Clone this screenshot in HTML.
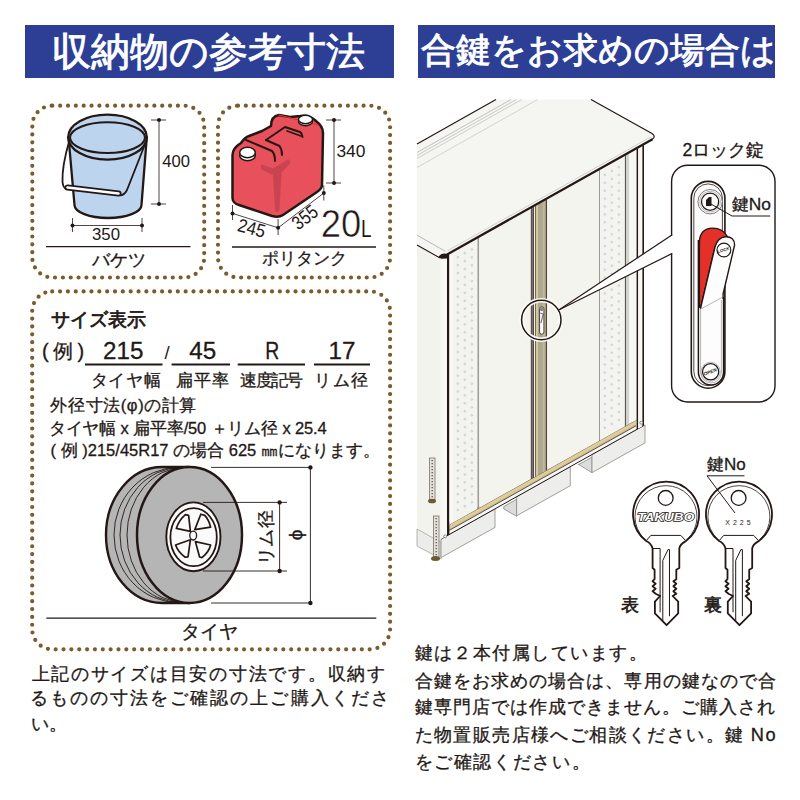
<!DOCTYPE html>
<html><head><meta charset="utf-8">
<style>
html,body{margin:0;padding:0;background:#fff;}
body{width:800px;height:800px;overflow:hidden;font-family:"Liberation Sans",sans-serif;}
svg{display:block;}
text{font-family:"Liberation Sans",sans-serif;fill:#231815;stroke:#231815;stroke-width:0.3px;}
.wt{fill:#fff;stroke:#fff;stroke-width:0.9px;}
.num{stroke-width:0;}
</style></head><body>
<svg width="800" height="800" viewBox="0 0 800 800">
<!-- banners -->
<rect x="25" y="25" width="369" height="53" fill="#2c3f95"/>
<rect x="418" y="25" width="357" height="53" fill="#2c3f95"/>
<text x="51.9" y="64.5" font-size="39.1" class="wt" textLength="313">収納物の参考寸法</text>
<text x="421" y="62.3" font-size="34.75" class="wt" textLength="355">合鍵をお求めの場合は</text>

<!-- dotted boxes -->
<g fill="none" stroke="#7b5c2c" stroke-width="4.2" stroke-linecap="round" stroke-dasharray="0 7.85">
<rect x="32.3" y="105.7" width="171.9" height="171.8" rx="20"/>
<rect x="218" y="105.7" width="172.1" height="171.8" rx="20"/>
<rect x="32.2" y="291.4" width="357.9" height="357.9" rx="20"/>
</g>
<!-- separators -->
<g stroke="#231815" stroke-width="1.3">
<line x1="46" y1="246.6" x2="190.5" y2="246.6"/>
<line x1="232" y1="247" x2="376" y2="247"/>
<line x1="46.3" y1="618.2" x2="376.3" y2="618.2"/>
</g>
<text x="119.1" y="265.5" font-size="18" text-anchor="middle" textLength="54">バケツ</text>
<text x="304.5" y="263.5" font-size="17.2" text-anchor="middle" textLength="85">ポリタンク</text>
<text x="209.1" y="637.5" font-size="18.6" text-anchor="middle" textLength="57">タイヤ</text>


<!-- bucket -->
<g stroke="#231815" stroke-linejoin="round" stroke-linecap="round">
<path d="M68.5 137 L74.5 205 A33.5 13 0 0 0 141.5 205 L146.8 137 Z" fill="#bdd4ee" stroke-width="2.3"/>
<ellipse cx="107.5" cy="137.2" rx="39.3" ry="22.5" fill="#bdd4ee" stroke-width="2.3"/>
<ellipse cx="107.5" cy="137.6" rx="37.5" ry="15.4" fill="#bdd4ee" stroke-width="2.1"/>
<path d="M69.5 140 C66 152 62 170 62.5 182 C63 186 64 188 66 189" fill="none" stroke-width="1.8"/>
<path d="M118 195 C122 196 125 194 127 190 L145.5 143" fill="none" stroke-width="1.8"/>
<path d="M67.5 187.5 L118.5 193.5" stroke-width="6" fill="none"/>
<path d="M67.5 187.5 L118.5 193.5" stroke="#fff" stroke-width="2.6" fill="none"/>
</g>
<g stroke="#231815" stroke-width="0.8" fill="none">
<line x1="159" y1="120" x2="159" y2="204"/>
<line x1="151" y1="120" x2="166" y2="120"/>
<line x1="151" y1="204" x2="166" y2="204"/>
<line x1="72.5" y1="225.5" x2="142" y2="225.5"/>
<line x1="72.5" y1="218" x2="72.5" y2="232"/>
<line x1="142" y1="218" x2="142" y2="232"/>
</g>
<g fill="#231815">
<circle cx="159" cy="120" r="2"/><circle cx="159" cy="204" r="2"/>
<circle cx="72.5" cy="225.5" r="2"/><circle cx="142" cy="225.5" r="2"/>
</g>
<text class="num" x="162.2" y="167.3" font-size="16.6">400</text>
<text class="num" x="106" y="239.8" font-size="16.8" text-anchor="middle">350</text>

<!-- polytank -->
<g stroke="#231815" stroke-linejoin="round" stroke-linecap="round">
<path d="M232.5 155 C232.5 150 236 146 241 143 C243 140 245 137 249 136 L262 131 L271 126 C271 120 273 116 279 115 L290 117 L300 116 C306 115 312 117 316 121 C320 124 323 128 323 133 L322 185 C322 188 320 190 317 192 L283 215 C280 217 276 217 272 216 L239 205 C235 204 232.5 201 232.5 198 Z" fill="#e8505b" stroke-width="2.5"/>
<path d="M262 164.5 L273 168.5 L287.5 159.5 C290 159 291 161 290 163.5 L281.5 172.5 L279.5 209 C279 213 275.5 213 275 209 L273 175 L262.5 170 C260.5 169 260.5 165.5 262 164.5 Z" fill="#c94450" stroke="none"/>
<path d="M246 140 L272 151 C274 153 275 157 275 161" fill="none" stroke-width="2"/>
<path d="M266 140 L279.5 146 C281 148 282 151 282 155" fill="none" stroke-width="2"/>
<path d="M266 140 L285 127 L300 132 C302 133 302 135 302.5 137" fill="none" stroke-width="2"/>
<path d="M287 131 L301 136" fill="none" stroke-width="1.8"/>
<path d="M279 115 L318 125" fill="none" stroke="#e8302a" stroke-width="1.2"/>
<ellipse cx="247.5" cy="155.5" rx="7.8" ry="5.2" fill="#fff" stroke-width="1.5"/>
<ellipse cx="247.5" cy="152.5" rx="7.8" ry="5.2" fill="#fff" stroke-width="1.5"/>
<ellipse cx="305.5" cy="121.5" rx="7" ry="4.2" fill="#fff" stroke-width="1.4"/>
<ellipse cx="305.5" cy="119.5" rx="7" ry="4.2" fill="#fff" stroke-width="1.4"/>
</g>
<g stroke="#231815" stroke-width="0.8" fill="none">
<line x1="334" y1="120" x2="334" y2="183"/>
<line x1="326" y1="120" x2="341" y2="120"/>
<line x1="326" y1="183" x2="341" y2="183"/>
<line x1="232.5" y1="213.4" x2="278.1" y2="227.8"/>
<line x1="278.1" y1="227.8" x2="323.8" y2="193.1"/>
<line x1="232.5" y1="205" x2="232.5" y2="220"/>
<line x1="278.1" y1="219" x2="278.1" y2="235"/>
<line x1="323.8" y1="185.5" x2="323.8" y2="200.5"/>
</g>
<g fill="#231815">
<circle cx="334" cy="120" r="2"/><circle cx="334" cy="183" r="2"/>
<circle cx="232.5" cy="213.4" r="2"/><circle cx="278.1" cy="227.8" r="2"/><circle cx="323.8" cy="193.1" r="2"/>
</g>
<text class="num" x="336.4" y="157" font-size="17.4">340</text>
<text class="num" transform="translate(250 234.4) rotate(15)" font-size="18.6" text-anchor="middle" textLength="28" lengthAdjust="spacingAndGlyphs">245</text>
<text class="num" transform="translate(309 222.5) rotate(-38)" font-size="19.5" text-anchor="middle" textLength="27" lengthAdjust="spacingAndGlyphs">355</text>
<text class="num" x="320.8" y="237" font-size="38.2" textLength="40.5" lengthAdjust="spacingAndGlyphs" style="stroke:#fff;stroke-width:0.5px">20</text>
<text class="num" x="361" y="237" font-size="23.8" textLength="10.5" lengthAdjust="spacingAndGlyphs">L</text>
<!-- tire box text -->
<text x="51" y="326" font-size="18.5" style="stroke-width:0.75px" textLength="95">サイズ表示</text>
<text x="42" y="358" font-size="20">(</text>
<text x="53" y="357.7" font-size="20">例</text>
<text x="77.6" y="358" font-size="20">)</text>
<g font-size="24.2" text-anchor="middle" style="stroke-width:0.35px">
<text x="123.2" y="358.6">215</text>
<text x="202.8" y="358.6">45</text>
<text x="272.2" y="358.6" textLength="14" lengthAdjust="spacingAndGlyphs">R</text>
<text x="341.9" y="358.6">17</text>
</g>
<text class="num" x="164.6" y="358.6" font-size="18.5">/</text>
<g stroke="#231815" stroke-width="2.2">
<line x1="85" y1="364.5" x2="162.5" y2="364.5"/>
<line x1="171.6" y1="364.5" x2="230" y2="364.5"/>
<line x1="237.7" y1="364.5" x2="305" y2="364.5"/>
<line x1="314" y1="364.5" x2="370" y2="364.5"/>
</g>
<g font-size="16.8" text-anchor="middle">
<text x="125.75" y="385.6" textLength="70">タイヤ幅</text>
<text x="202.45" y="385.6" textLength="52.6">扁平率</text>
<text x="271.9" y="385.6" textLength="63">速度記号</text>
<text x="341.2" y="385.6" textLength="53.6">リム径</text>
</g>
<g font-size="16.5">
<text x="50.4" y="411" textLength="146">外径寸法(φ)の計算</text>
<text x="48.8" y="434" textLength="277.8">タイヤ幅 x 扁平率/50 ＋リム径 x 25.4</text>
<text x="50.6" y="456" textLength="329.2">( 例 )215/45R17 の場合 625 ㎜になります。</text>
</g>


<!-- tire -->
<g stroke="#231815" stroke-linejoin="round">
<path d="M189.5 467 L162 467 A56 68 0 0 0 162 603 L189.5 603 Z" fill="#b5b5b6" stroke-width="2.4"/>
<g fill="none" stroke-width="0.9">
<path d="M178 467.5 A64 67.5 0 0 0 178 602.5"/>
<path d="M181 467.5 A61 67.5 0 0 0 181 602.5"/>
<path d="M184 467.5 A57 67.5 0 0 0 184 602.5"/>
</g>
<ellipse cx="189.5" cy="535" rx="52.5" ry="68" fill="#b5b5b6" stroke-width="2.5"/>
<ellipse cx="193.4" cy="536.8" rx="27.1" ry="34.4" fill="#fafafa" stroke-width="1.9"/>
<ellipse cx="193.6" cy="537.2" rx="23.2" ry="29" fill="#fafafa" stroke-width="1.8"/>
<g fill="none" stroke-width="1.7" stroke-linejoin="round">
<path d="M176.3 528.4 Q179 520 185.4 514.6 L188.6 515.4 L190.4 531.4 Z"/>
<path d="M194.8 529.6 L200.8 514.2 L204.8 515.4 Q209 520 210.6 527.2 Z"/>
<path d="M195.4 541.6 L210.6 545 Q209 552 202 557.6 L199.6 557 Z"/>
<path d="M175.6 545 L190.4 539.8 L188 557 L185.2 557.2 Q178 552 175.6 545 Z"/>
</g>
<ellipse cx="193.2" cy="535.6" rx="3.4" ry="4.4" fill="#fafafa" stroke-width="1.3"/>
</g>
<g stroke="#231815" stroke-width="0.9" fill="none">
<line x1="211" y1="467.4" x2="312" y2="467.4"/>
<line x1="211" y1="603" x2="312" y2="603"/>
<line x1="310.4" y1="467.4" x2="310.4" y2="603"/>
<line x1="203" y1="502.4" x2="287" y2="502.4"/>
<line x1="203" y1="571" x2="287" y2="571"/>
<line x1="279.6" y1="502.4" x2="279.6" y2="571"/>
</g>
<g fill="#231815">
<circle cx="310.4" cy="467.4" r="2.2"/><circle cx="310.4" cy="603" r="2.2"/>
<circle cx="279.6" cy="502.4" r="2.2"/><circle cx="279.6" cy="571" r="2.2"/>
</g>
<text transform="translate(272 537.5) rotate(-90)" font-size="17.7" text-anchor="middle" textLength="55">リム径</text>
<text transform="translate(301.5 535) rotate(-90)" font-size="19" text-anchor="middle">ϕ</text>
<!-- bottom-left text -->
<g font-size="17.9">
<text x="31.5" y="680" textLength="353.5">上記のサイズは目安の寸法です。収納す</text>
<text x="29.6" y="704" textLength="359.2">るものの寸法をご確認の上ご購入くださ</text>
<text x="30.5" y="729.5" textLength="36">い。</text>
</g>

<!-- SHED START -->
<polygon points="417.0,244.0 441.0,257.5 441.0,542.5 417.0,529.0" fill="#f3f3ee"/>
<line x1="442.6" y1="258" x2="442.6" y2="542" stroke="#b4b4b0" stroke-width="0.7"/>
<polygon points="417.0,529.0 441.0,542.5 441.0,558.8 417.0,546.0" fill="#ececea" stroke="#9a9a96" stroke-width="0.7"/>
<polygon points="441.0,256.6 644.0,142.9 644.0,425.4 441.0,539.1" fill="#f4f4ef"/>
<polygon points="441.0,539.1 495.0,508.9 495.0,527.4 441.0,557.6" fill="#ededeb" stroke="#8a8a86" stroke-width="0.8"/>
<polygon points="503.8,506.5 516.6,499.3 516.6,516.2 503.8,509.0" fill="#dcdcda" stroke="#8a8a86" stroke-width="0.8"/>
<polygon points="516.6,496.8 570.3,466.7 570.3,485.7 516.6,515.8" fill="#ededeb" stroke="#8a8a86" stroke-width="0.8"/>
<polygon points="578.2,464.8 592.0,457.1 592.0,472.7 578.2,464.2" fill="#dcdcda" stroke="#8a8a86" stroke-width="0.8"/>
<polygon points="592.0,454.6 645.0,424.9 645.0,442.9 592.0,472.6" fill="#ededeb" stroke="#8a8a86" stroke-width="0.8"/>
<polygon points="441.0,534.6 644.0,420.9 644.0,425.4 441.0,539.1" fill="#f7f7f4"/>
<line x1="441.0" y1="539.1" x2="644.0" y2="425.4" stroke="#231815" stroke-width="1"/>
<polygon points="449.4,524.7 636.0,420.2 636.0,425.4 449.4,529.9" fill="#dfcc9a"/>
<polygon points="449.4,528.7 636.0,424.2 636.0,425.4 449.4,529.9" fill="#c9b98e"/>
<line x1="449.4" y1="524.1" x2="636.0" y2="419.6" stroke="#3a3028" stroke-width="1.6"/>
<line x1="449.4" y1="522.9" x2="636.0" y2="418.4" stroke="#5a5048" stroke-width="1.2" stroke-dasharray="1 1.2"/>
<line x1="449.4" y1="530.3" x2="636.0" y2="425.8" stroke="#4a4038" stroke-width="0.9"/>
<polygon points="441.0,258.6 447.0,255.3 447.0,535.8 441.0,539.1" fill="#f7f7f3"/>
<polygon points="447.0,255.3 449.4,253.9 449.4,534.4 447.0,535.8" fill="#231815"/>
<polygon points="449.4,253.9 453.0,251.9 453.0,522.7 449.4,524.7" fill="#f7f7f3"/>
<polygon points="453.0,251.9 477.5,238.2 477.5,509.0 453.0,522.7" fill="#f3f3ef"/>
<polygon points="477.5,238.2 479.2,237.2 479.2,508.0 477.5,509.0" fill="#9c9a96"/>
<polygon points="479.2,237.2 531.0,208.2 531.0,479.0 479.2,508.0" fill="#f4f4ef"/>
<polygon points="530.8,208.3 534.0,206.5 534.0,477.3 530.8,479.1" fill="#4a4240"/>
<polygon points="531.6,207.9 533.2,207.0 533.2,477.8 531.6,478.7" fill="#7a706b"/>
<polygon points="534.0,206.5 535.1,205.9 535.1,476.7 534.0,477.3" fill="#f0efea"/>
<polygon points="535.1,205.9 547.1,199.2 547.1,470.0 535.1,476.7" fill="#aea78f"/>
<polygon points="535.1,205.9 536.1,205.4 536.1,476.2 535.1,476.7" fill="#6b6250"/>
<polygon points="536.1,205.4 537.9,204.4 537.9,475.2 536.1,476.2" fill="#dccb98"/>
<polygon points="542.6,201.7 544.9,200.4 544.9,471.2 542.6,472.5" fill="#bfb79a"/>
<polygon points="544.9,200.4 546.0,199.8 546.0,470.6 544.9,471.2" fill="#a89c80"/>
<polygon points="546.0,199.8 547.1,199.2 547.1,470.0 546.0,470.6" fill="#4d453a"/>
<polygon points="547.1,199.2 599.0,170.1 599.0,440.9 547.1,470.0" fill="#f4f4ef"/>
<polygon points="599.0,170.1 600.0,169.6 600.0,440.4 599.0,440.9" fill="#9c9a96"/>
<polygon points="600.0,169.6 625.3,155.4 625.3,426.2 600.0,440.4" fill="#f3f3ef"/>
<polygon points="625.3,155.4 629.4,153.1 629.4,423.9 625.3,426.2" fill="#d2d2ce"/>
<polygon points="624.9,155.6 626.0,155.0 626.0,425.8 624.9,426.4" fill="#5a5650"/>
<polygon points="629.0,153.3 636.6,149.1 636.6,419.9 629.0,424.1" fill="#f6f6f3"/>
<polygon points="636.6,149.1 638.2,148.2 638.2,428.7 636.6,429.6" fill="#231815"/>
<polygon points="638.2,148.2 642.4,145.8 642.4,426.3 638.2,428.7" fill="#f6f6f3"/>
<polygon points="642.4,145.8 644.0,144.9 644.0,425.4 642.4,426.3" fill="#231815"/>
<g fill="none" stroke="#b2b2ae" stroke-width="0.55"><circle cx="457.8" cy="257.2" r="0.85"/><circle cx="457.8" cy="265.1" r="0.85"/><circle cx="457.8" cy="273.0" r="0.85"/><circle cx="457.8" cy="280.9" r="0.85"/><circle cx="457.8" cy="288.8" r="0.85"/><circle cx="457.8" cy="296.7" r="0.85"/><circle cx="457.8" cy="304.6" r="0.85"/><circle cx="457.8" cy="312.5" r="0.85"/><circle cx="457.8" cy="320.4" r="0.85"/><circle cx="457.8" cy="328.3" r="0.85"/><circle cx="457.8" cy="336.2" r="0.85"/><circle cx="457.8" cy="344.1" r="0.85"/><circle cx="457.8" cy="352.0" r="0.85"/><circle cx="457.8" cy="359.9" r="0.85"/><circle cx="457.8" cy="367.8" r="0.85"/><circle cx="457.8" cy="375.7" r="0.85"/><circle cx="457.8" cy="383.6" r="0.85"/><circle cx="457.8" cy="391.5" r="0.85"/><circle cx="457.8" cy="399.4" r="0.85"/><circle cx="457.8" cy="407.3" r="0.85"/><circle cx="457.8" cy="415.2" r="0.85"/><circle cx="457.8" cy="423.1" r="0.85"/><circle cx="457.8" cy="431.0" r="0.85"/><circle cx="457.8" cy="438.9" r="0.85"/><circle cx="457.8" cy="446.8" r="0.85"/><circle cx="457.8" cy="454.7" r="0.85"/><circle cx="457.8" cy="462.6" r="0.85"/><circle cx="457.8" cy="470.5" r="0.85"/><circle cx="457.8" cy="478.4" r="0.85"/><circle cx="457.8" cy="486.3" r="0.85"/><circle cx="457.8" cy="494.2" r="0.85"/><circle cx="457.8" cy="502.1" r="0.85"/><circle cx="457.8" cy="510.0" r="0.85"/><circle cx="464.8" cy="253.3" r="0.85"/><circle cx="464.8" cy="261.2" r="0.85"/><circle cx="464.8" cy="269.1" r="0.85"/><circle cx="464.8" cy="277.0" r="0.85"/><circle cx="464.8" cy="284.9" r="0.85"/><circle cx="464.8" cy="292.8" r="0.85"/><circle cx="464.8" cy="300.7" r="0.85"/><circle cx="464.8" cy="308.6" r="0.85"/><circle cx="464.8" cy="316.5" r="0.85"/><circle cx="464.8" cy="324.4" r="0.85"/><circle cx="464.8" cy="332.3" r="0.85"/><circle cx="464.8" cy="340.2" r="0.85"/><circle cx="464.8" cy="348.1" r="0.85"/><circle cx="464.8" cy="356.0" r="0.85"/><circle cx="464.8" cy="363.9" r="0.85"/><circle cx="464.8" cy="371.8" r="0.85"/><circle cx="464.8" cy="379.7" r="0.85"/><circle cx="464.8" cy="387.6" r="0.85"/><circle cx="464.8" cy="395.5" r="0.85"/><circle cx="464.8" cy="403.4" r="0.85"/><circle cx="464.8" cy="411.3" r="0.85"/><circle cx="464.8" cy="419.2" r="0.85"/><circle cx="464.8" cy="427.1" r="0.85"/><circle cx="464.8" cy="435.0" r="0.85"/><circle cx="464.8" cy="442.9" r="0.85"/><circle cx="464.8" cy="450.8" r="0.85"/><circle cx="464.8" cy="458.7" r="0.85"/><circle cx="464.8" cy="466.6" r="0.85"/><circle cx="464.8" cy="474.5" r="0.85"/><circle cx="464.8" cy="482.4" r="0.85"/><circle cx="464.8" cy="490.3" r="0.85"/><circle cx="464.8" cy="498.2" r="0.85"/><circle cx="464.8" cy="506.1" r="0.85"/><circle cx="471.8" cy="249.4" r="0.85"/><circle cx="471.8" cy="257.3" r="0.85"/><circle cx="471.8" cy="265.2" r="0.85"/><circle cx="471.8" cy="273.1" r="0.85"/><circle cx="471.8" cy="281.0" r="0.85"/><circle cx="471.8" cy="288.9" r="0.85"/><circle cx="471.8" cy="296.8" r="0.85"/><circle cx="471.8" cy="304.7" r="0.85"/><circle cx="471.8" cy="312.6" r="0.85"/><circle cx="471.8" cy="320.5" r="0.85"/><circle cx="471.8" cy="328.4" r="0.85"/><circle cx="471.8" cy="336.3" r="0.85"/><circle cx="471.8" cy="344.2" r="0.85"/><circle cx="471.8" cy="352.1" r="0.85"/><circle cx="471.8" cy="360.0" r="0.85"/><circle cx="471.8" cy="367.9" r="0.85"/><circle cx="471.8" cy="375.8" r="0.85"/><circle cx="471.8" cy="383.7" r="0.85"/><circle cx="471.8" cy="391.6" r="0.85"/><circle cx="471.8" cy="399.5" r="0.85"/><circle cx="471.8" cy="407.4" r="0.85"/><circle cx="471.8" cy="415.3" r="0.85"/><circle cx="471.8" cy="423.2" r="0.85"/><circle cx="471.8" cy="431.1" r="0.85"/><circle cx="471.8" cy="439.0" r="0.85"/><circle cx="471.8" cy="446.9" r="0.85"/><circle cx="471.8" cy="454.8" r="0.85"/><circle cx="471.8" cy="462.7" r="0.85"/><circle cx="471.8" cy="470.6" r="0.85"/><circle cx="471.8" cy="478.5" r="0.85"/><circle cx="471.8" cy="486.4" r="0.85"/><circle cx="471.8" cy="494.3" r="0.85"/><circle cx="471.8" cy="502.2" r="0.85"/><circle cx="604.8" cy="174.9" r="0.85"/><circle cx="604.8" cy="182.8" r="0.85"/><circle cx="604.8" cy="190.7" r="0.85"/><circle cx="604.8" cy="198.6" r="0.85"/><circle cx="604.8" cy="206.5" r="0.85"/><circle cx="604.8" cy="214.4" r="0.85"/><circle cx="604.8" cy="222.3" r="0.85"/><circle cx="604.8" cy="230.2" r="0.85"/><circle cx="604.8" cy="238.1" r="0.85"/><circle cx="604.8" cy="246.0" r="0.85"/><circle cx="604.8" cy="253.9" r="0.85"/><circle cx="604.8" cy="261.8" r="0.85"/><circle cx="604.8" cy="269.7" r="0.85"/><circle cx="604.8" cy="277.6" r="0.85"/><circle cx="604.8" cy="285.5" r="0.85"/><circle cx="604.8" cy="293.4" r="0.85"/><circle cx="604.8" cy="301.3" r="0.85"/><circle cx="604.8" cy="309.2" r="0.85"/><circle cx="604.8" cy="317.1" r="0.85"/><circle cx="604.8" cy="325.0" r="0.85"/><circle cx="604.8" cy="332.9" r="0.85"/><circle cx="604.8" cy="340.8" r="0.85"/><circle cx="604.8" cy="348.7" r="0.85"/><circle cx="604.8" cy="356.6" r="0.85"/><circle cx="604.8" cy="364.5" r="0.85"/><circle cx="604.8" cy="372.4" r="0.85"/><circle cx="604.8" cy="380.3" r="0.85"/><circle cx="604.8" cy="388.2" r="0.85"/><circle cx="604.8" cy="396.1" r="0.85"/><circle cx="604.8" cy="404.0" r="0.85"/><circle cx="604.8" cy="411.9" r="0.85"/><circle cx="604.8" cy="419.8" r="0.85"/><circle cx="604.8" cy="427.7" r="0.85"/><circle cx="611.8" cy="171.0" r="0.85"/><circle cx="611.8" cy="178.9" r="0.85"/><circle cx="611.8" cy="186.8" r="0.85"/><circle cx="611.8" cy="194.7" r="0.85"/><circle cx="611.8" cy="202.6" r="0.85"/><circle cx="611.8" cy="210.5" r="0.85"/><circle cx="611.8" cy="218.4" r="0.85"/><circle cx="611.8" cy="226.3" r="0.85"/><circle cx="611.8" cy="234.2" r="0.85"/><circle cx="611.8" cy="242.1" r="0.85"/><circle cx="611.8" cy="250.0" r="0.85"/><circle cx="611.8" cy="257.9" r="0.85"/><circle cx="611.8" cy="265.8" r="0.85"/><circle cx="611.8" cy="273.7" r="0.85"/><circle cx="611.8" cy="281.6" r="0.85"/><circle cx="611.8" cy="289.5" r="0.85"/><circle cx="611.8" cy="297.4" r="0.85"/><circle cx="611.8" cy="305.3" r="0.85"/><circle cx="611.8" cy="313.2" r="0.85"/><circle cx="611.8" cy="321.1" r="0.85"/><circle cx="611.8" cy="329.0" r="0.85"/><circle cx="611.8" cy="336.9" r="0.85"/><circle cx="611.8" cy="344.8" r="0.85"/><circle cx="611.8" cy="352.7" r="0.85"/><circle cx="611.8" cy="360.6" r="0.85"/><circle cx="611.8" cy="368.5" r="0.85"/><circle cx="611.8" cy="376.4" r="0.85"/><circle cx="611.8" cy="384.3" r="0.85"/><circle cx="611.8" cy="392.2" r="0.85"/><circle cx="611.8" cy="400.1" r="0.85"/><circle cx="611.8" cy="408.0" r="0.85"/><circle cx="611.8" cy="415.9" r="0.85"/><circle cx="611.8" cy="423.8" r="0.85"/><circle cx="618.8" cy="167.1" r="0.85"/><circle cx="618.8" cy="175.0" r="0.85"/><circle cx="618.8" cy="182.9" r="0.85"/><circle cx="618.8" cy="190.8" r="0.85"/><circle cx="618.8" cy="198.7" r="0.85"/><circle cx="618.8" cy="206.6" r="0.85"/><circle cx="618.8" cy="214.5" r="0.85"/><circle cx="618.8" cy="222.4" r="0.85"/><circle cx="618.8" cy="230.3" r="0.85"/><circle cx="618.8" cy="238.2" r="0.85"/><circle cx="618.8" cy="246.1" r="0.85"/><circle cx="618.8" cy="254.0" r="0.85"/><circle cx="618.8" cy="261.9" r="0.85"/><circle cx="618.8" cy="269.8" r="0.85"/><circle cx="618.8" cy="277.7" r="0.85"/><circle cx="618.8" cy="285.6" r="0.85"/><circle cx="618.8" cy="293.5" r="0.85"/><circle cx="618.8" cy="301.4" r="0.85"/><circle cx="618.8" cy="309.3" r="0.85"/><circle cx="618.8" cy="317.2" r="0.85"/><circle cx="618.8" cy="325.1" r="0.85"/><circle cx="618.8" cy="333.0" r="0.85"/><circle cx="618.8" cy="340.9" r="0.85"/><circle cx="618.8" cy="348.8" r="0.85"/><circle cx="618.8" cy="356.7" r="0.85"/><circle cx="618.8" cy="364.6" r="0.85"/><circle cx="618.8" cy="372.5" r="0.85"/><circle cx="618.8" cy="380.4" r="0.85"/><circle cx="618.8" cy="388.3" r="0.85"/><circle cx="618.8" cy="396.2" r="0.85"/><circle cx="618.8" cy="404.1" r="0.85"/><circle cx="618.8" cy="412.0" r="0.85"/><circle cx="618.8" cy="419.9" r="0.85"/></g>
<path d="M417,144 L496,99.5 L591,99.5 L652,133.5 Q656.5,136.5 652,139.5 L446,254.5 Q442,257.5 438,255 L417,244 Z" fill="#f5f5f1"/>
<path d="M417,235.1 L445.3,251.3" stroke="#a9a9a5" stroke-width="0.8" fill="none"/>
<path d="M417,244.9 L440,258" stroke="#231815" stroke-width="1.1" fill="none"/>
<line x1="417" y1="152.5" x2="511.08429458740017" y2="99.5" stroke="#a9a9a5" stroke-width="0.7"/>
<line x1="417" y1="155.5" x2="516.4081632653061" y2="99.5" stroke="#b4b4b0" stroke-width="0.7"/>
<line x1="417" y1="158.5" x2="521.7320319432121" y2="99.5" stroke="#bcbcb8" stroke-width="0.7"/>
<line x1="417" y1="167.5" x2="537.7036379769299" y2="99.5" stroke="#c4c4c0" stroke-width="0.7"/>
<line x1="448" y1="250.5" x2="651" y2="136.8" stroke="#c5c5c1" stroke-width="0.8"/>
<path d="M417,144 L496,99.5" stroke="#231815" stroke-width="1.2" fill="none"/>
<path d="M591,99.5 L652,133.5 Q656.5,136.5 652,139.5" stroke="#231815" stroke-width="1.2" fill="none"/>
<path d="M652.5,139.2 L444,256.2" stroke="#231815" stroke-width="2.3" fill="none"/>
<path d="M438.5 256.8 Q441 253.3 445 253.6 L449.2 255.5 L447.5 258.6 L441 258.8 Z" fill="#231815"/>
<g fill="#f0f0ec" stroke="#6a6a66" stroke-width="0.7"><circle cx="445.2" cy="536.3" r="1.5"/><circle cx="641.3" cy="422.7" r="1.5"/></g>
<g stroke="#6a6256" stroke-width="0.7"><rect x="429.5" y="458" width="5.5" height="42" fill="#e4e2dc"/><rect x="433.5" y="516" width="5.5" height="43" fill="#e4e2dc"/></g>
<g stroke="#5a5246" stroke-width="1.3" stroke-dasharray="1.2 1.8" fill="none"><line x1="432.2" y1="460" x2="432.2" y2="498"/><line x1="436.2" y1="518" x2="436.2" y2="556"/></g>
<g fill="#6b5a34"><ellipse cx="432" cy="501" rx="4" ry="2.3"/><ellipse cx="435.5" cy="558.5" rx="4.5" ry="2.5"/></g>
<circle cx="541.3" cy="320" r="19.7" fill="none" stroke="#fbfbf9" stroke-width="4.5"/>
<circle cx="541.3" cy="320" r="19.7" fill="none" stroke="#231815" stroke-width="1.5"/>
<rect x="539.6" y="306.8" width="4.3" height="27.4" rx="2.1" fill="#fdfdfd" stroke="#3a3632" stroke-width="0.9"/>
<rect x="539.9" y="307.2" width="3.7" height="4" rx="1.8" fill="#8c8a86"/>
<path d="M540.5 313 L543.2 314 L541 323" fill="none" stroke="#3a3632" stroke-width="0.8"/>

<!-- callout -->
<rect x="671.6" y="165.3" width="103.4" height="236.7" rx="16" fill="#fff" stroke="#231815" stroke-width="1.4"/>
<polygon points="559.2,309.8 673,234.7 673,253.4" fill="#fff"/>
<g stroke="#231815" stroke-width="1.2" fill="none">
<line x1="559.2" y1="309.8" x2="672.3" y2="234.7"/>
<line x1="559.2" y1="309.8" x2="672.3" y2="253.4"/>
</g>
<!-- lock plate -->
<rect x="691.3" y="181.4" width="33.6" height="206.8" rx="16.8" fill="#fff" stroke="#231815" stroke-width="1.6"/>
<rect x="693.8" y="183.9" width="28.6" height="201.8" rx="14.3" fill="#fbfbfb" stroke="#231815" stroke-width="0.8"/>
<path d="M698.4 240 L698.4 372 A12.6 13 0 0 0 723.6 372 L723.6 297" fill="#fdfdfd" stroke="#231815" stroke-width="1.5"/>
<path d="M700.6 300 L700.6 372 A10.4 11 0 0 0 721.4 372 L721.4 300" fill="none" stroke="#9a9a9a" stroke-width="0.7"/>
<circle cx="710.1" cy="201.7" r="12.2" fill="#fff" stroke="#6a6a6a" stroke-width="0.9"/>
<circle cx="710.1" cy="201.7" r="10.4" fill="none" stroke="#9a9a9a" stroke-width="0.7"/>
<circle cx="710.1" cy="201.7" r="8.6" fill="#fff" stroke="#231815" stroke-width="1.3"/>
<path d="M706 200 L709 197 L711.5 197 L711.5 206 L706 206 Z" fill="#231815"/>
<path d="M711 204 L732 216 L770.2 216" fill="none" stroke="#231815" stroke-width="1"/>
<!-- lever -->
<path d="M699.4 307 L699.4 242 Q700 228.3 712.5 228.1 Q722.5 228 727.5 236.5 L715 247 L700.6 308 Z" fill="#e5302a" stroke="#231815" stroke-width="1.4" stroke-linejoin="round"/>
<path d="M700.6 308 L715 247 Q717.5 237.5 725.5 236.8 Q734.5 236.5 734.6 245 L723.1 294 L722 297.6 Z" fill="#fdfdfd"/>
<path d="M700.6 308 L715 247 Q717.5 237.5 725.5 236.8 Q734.5 236.5 734.6 245 L723.1 294 L723.1 299" fill="none" stroke="#231815" stroke-width="1.4" stroke-linejoin="round"/>
<line x1="701.2" y1="308.8" x2="722.5" y2="297.2" stroke="#9a9a9a" stroke-width="0.7"/>
<circle cx="723.9" cy="250" r="6.9" fill="#fff" stroke="#231815" stroke-width="1.2"/>
<text class="num" transform="translate(723.9 251.5) rotate(-18)" font-size="4.4" font-weight="bold" text-anchor="middle" style="font-style:italic">LOCK</text>
<circle cx="710.6" cy="371.8" r="8.1" fill="#fff" stroke="#231815" stroke-width="1.3"/>
<circle cx="710.6" cy="371.8" r="9.6" fill="none" stroke="#9a9a9a" stroke-width="0.7"/>
<text class="num" transform="translate(710.6 373.5) rotate(-20)" font-size="4.8" font-weight="bold" text-anchor="middle" style="font-style:italic">OPEN</text>
<text x="682.5" y="155.8" font-size="17.5" textLength="81.7">2ロック錠</text>
<text x="731.8" y="209.6" font-size="17.4" textLength="39.2">鍵No</text>
<!-- keys -->
<defs>
<g id="key">
<path d="M-13.5 32.3 C-14.5 28 -16.5 26.5 -19.8 24.8 A33 33 0 1 1 19.2 25.2 C16 27 13.8 28.5 13.2 32.3 L13.2 51.8 L10.2 53.5 L10.2 63 L7.3 65 L10.2 67.5 L7.3 70 L10.2 72.5 L7.3 75 L10.2 77.5 L6.6 79.8 L12.1 85.5 L12.1 97.2 L0.5 109 L-11.2 97.2 L-11.2 85.5 L-6 79.8 L-10.5 77.5 L-13.5 75 L-10.5 72.5 L-13.5 70 L-10.5 67.5 L-13.5 65 L-11.5 63 L-11.5 53.5 L-13.5 51.8 Z" fill="#fff" stroke="#231815" stroke-width="1.8" stroke-linejoin="round"/>
<path d="M-21.8 22.6 A31 31 0 1 1 21.3 22.9" fill="none" stroke="#231815" stroke-width="0.8"/>
<path d="M-19.5 24.1 L-15.3 19.2 L14.7 19.2 L19.2 24.1" fill="none" stroke="#231815" stroke-width="1"/>
<circle cx="-0.4" cy="-18.3" r="7.4" fill="#fff" stroke="#231815" stroke-width="1.3"/>
<path d="M-13.5 32.3 L-6 32.3 L-6 96 M-3.3 105 L-3.3 44.3 L1.9 33.4 L3.4 33.4 L3.4 100" fill="none" stroke="#231815" stroke-width="1"/>
</g>
</defs>
<use href="#key" x="666.1" y="516.2"/>
<use href="#key" x="739" y="516.2"/>
<text x="665.7" y="520.8" font-size="11.5" font-weight="bold" text-anchor="middle" style="font-style:italic;fill:#fff;stroke:#231815;stroke-width:1.4;paint-order:stroke" textLength="57" lengthAdjust="spacingAndGlyphs">TAKUBO</text>
<text class="num" x="739.5" y="524.6" font-size="7" text-anchor="middle" letter-spacing="3">X225</text>
<text x="707" y="469.5" font-size="17" textLength="38.7">鍵No</text>
<path d="M735 513 L707 475.8 L744.5 475.8" fill="none" stroke="#231815" stroke-width="1"/>
<text x="621.4" y="610.6" font-size="17.8" style="stroke-width:0.6px">表</text>
<text x="703.5" y="610.6" font-size="17.8" style="stroke-width:0.6px">裏</text>

<!-- SHED END -->
<!-- bottom-right text -->
<g font-size="18.2">
<text x="414.5" y="659" textLength="232">鍵は２本付属しています。</text>
<text x="414.5" y="686.5" textLength="361.5">合鍵をお求めの場合は、専用の鍵なので合</text>
<text x="414.5" y="713.3" textLength="360">鍵専門店では作成できません。ご購入され</text>
<text x="414.5" y="741.2" textLength="361">た物置販売店様へご相談ください。鍵 No</text>
<text x="414.5" y="768" textLength="175">をご確認ください。</text>
</g>
</svg>
</body></html>
